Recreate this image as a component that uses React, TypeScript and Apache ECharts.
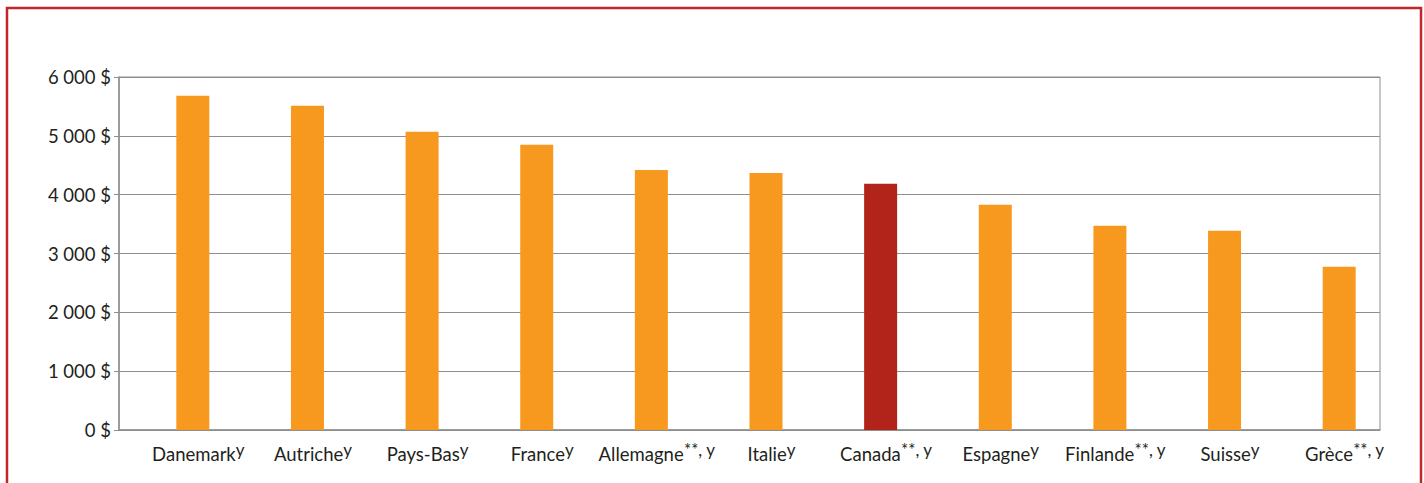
import React, { useEffect, useRef } from "react";
import * as echarts from "echarts";

// Per-student spending by country (in $), sorted from highest to lowest
const countries = [
  "Danemark",
  "Autriche",
  "Pays-Bas",
  "France",
  "Allemagne",
  "Italie",
  "Canada",
  "Espagne",
  "Finlande",
  "Suisse",
  "Grèce",
];
const notes = ["y", "y", "y", "y", "**, y", "y", "**, y", "y", "**, y", "y", "**, y"];
const spending = [5680, 5510, 5070, 4850, 4420, 4370, 4185, 3830, 3470, 3385, 2775];
const highlighted = "Canada";

const yTicks = { min: 0, max: 6000, interval: 1000 };

const ORANGE = "#F8991F";
const RED = "#B22319";
const GRID = "#8E8E8E";
const TEXT = "#231F20";
const FONT = "Lato";

function formatDollars(v: number): string {
  const s = String(Math.round(v));
  return s.replace(/\B(?=(\d{3})+(?!\d))/g, " ") + " $";
}

export default function App() {
  const ref = useRef<HTMLDivElement>(null);

  useEffect(() => {
    if (!ref.current) return;
    const chart = echarts.init(ref.current, undefined, { renderer: "svg" });
    chart.setOption({
      animation: false,
      backgroundColor: "#ffffff",
      grid: {
        left: 119,
        right: 44,
        top: 77,
        bottom: 53,
        show: true,
        borderColor: GRID,
        borderWidth: 1,
        containLabel: false,
      },
      graphic: [
        {
          type: "rect",
          shape: { x: 7, y: 8, width: 1414, height: 520 },
          style: { fill: "none", stroke: "#C0272D", lineWidth: 2.5 },
          silent: true,
        },
      ],
      xAxis: {
        type: "category",
        data: countries,
        axisLine: { show: true, lineStyle: { color: GRID, width: 1.5 } },
        axisTick: { show: false },
        axisLabel: {
          interval: 0,
          margin: 11,
          padding: [0, 0, 0, 44],
          formatter: (value: string, idx: number) => `{m|${value}}{s|${notes[idx]}}`,
          rich: {
            m: { fontFamily: FONT, fontSize: 18.5, color: TEXT, lineHeight: 26 },
            s: {
              fontFamily: FONT,
              fontSize: 17,
              color: TEXT,
              lineHeight: 10,
              verticalAlign: "top",
            },
          },
        },
      },
      yAxis: {
        type: "value",
        min: yTicks.min,
        max: yTicks.max,
        interval: yTicks.interval,
        axisLine: { show: true, lineStyle: { color: GRID, width: 1.5 } },
        axisTick: { show: true, length: 5, lineStyle: { color: GRID } },
        splitLine: { show: true, lineStyle: { color: GRID, width: 1 } },
        axisLabel: {
          margin: 8,
          fontFamily: FONT,
          fontSize: 18.5,
          color: TEXT,
          formatter: (v: number) => formatDollars(v),
        },
      },
      series: [
        {
          // empty companion series so each bar sits right of the category centre
          type: "bar",
          data: countries.map(() => null),
          barWidth: 33,
          barGap: "0%",
          silent: true,
        },
        {
          type: "bar",
          barWidth: 33,
          barGap: "0%",
          data: spending.map((v, i) => ({
            value: v,
            itemStyle: { color: countries[i] === highlighted ? RED : ORANGE },
          })),
        },
      ],
    });
    return () => chart.dispose();
  }, []);

  return (
    <div
      ref={ref}
      style={{ position: "fixed", left: 0, top: 0, width: 1424, height: 483 }}
    />
  );
}
